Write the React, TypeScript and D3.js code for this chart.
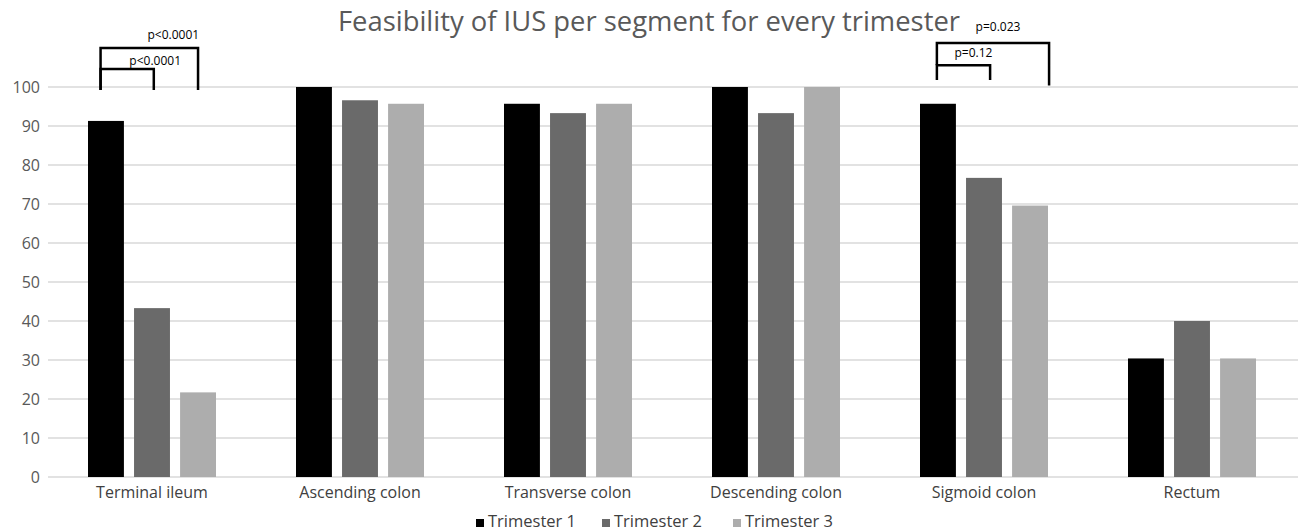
import React from "react";
import * as d3 from "d3";

const categories = ["Terminal ileum", "Ascending colon", "Transverse colon", "Descending colon", "Sigmoid colon", "Rectum"];
const seriesNames = ["Trimester 1", "Trimester 2", "Trimester 3"];
const trimester1 = [91.3, 100, 95.7, 100, 95.7, 30.4];
const trimester2 = [43.3, 96.6, 93.3, 93.3, 76.7, 40];
const trimester3 = [21.7, 95.7, 95.7, 100, 69.6, 30.4];
const yTicks = [0, 10, 20, 30, 40, 50, 60, 70, 80, 90, 100];
const colors = ["#000000", "#6a6a6a", "#adadad"];

// significance brackets: category, from series, to series, values (y units), label
const bracketCats = [0, 0, 4, 4];
const bracketFrom = [0, 0, 0, 0];
const bracketTo = [2, 1, 2, 1];
const bracketTop = [110, 104.6, 111.3, 105.6];
const bracketLeftBottom = [99.2, 99.2, 105.6, 101.8];
const bracketRightBottom = [99.2, 99.2, 100.4, 101.8];
const bracketLabels = ["p<0.0001", "p<0.0001", "p=0.023", "p=0.12"];
const bracketLabelY = [112.3, 105.6, 114.4, 107.7];

// layout for brackets (fraction of bar width for ends, label x shift in px)
const bracketFromFrac = [0.35, 0.35, 0.47, 0.47];
const bracketToFrac = [0.5, 0.55, 1.03, 0.67];
const bracketLabelShift = [24, 28, 5, 10];

const W = 1298;
const H = 532;
const left = 48;
const right = 1296;
const font = "'Open Sans', 'Noto Sans', sans-serif";

export default function App() {
  const x = d3.scaleBand<string>().domain(categories).range([left, right]).paddingInner(0).paddingOuter(0);
  const inner = d3.scaleBand<string>().domain(seriesNames).range([40, x.bandwidth() - 40]).paddingInner(0.22).paddingOuter(0);
  const y = d3.scaleLinear().domain([0, 100]).range([477, 87]);
  const series = [trimester1, trimester2, trimester3];

  const bx = (c: number, s: number) => (x(categories[c]) as number) + (inner(seriesNames[s]) as number);
  const bw = inner.bandwidth();

  const legendSquareX = [476, 602, 733];

  return (
    <svg width={W} height={H} style={{ position: "absolute", left: 0, top: 0, background: "#fff" }}>
      <rect width={W} height={H} fill="#fff" />
      <text x={649} y={31} textAnchor="middle" fontFamily={font} fontSize={27.4} fill="#595959">
        Feasibility of IUS per segment for every trimester
      </text>
      {yTicks.map((t) => (
        <g key={t}>
          <line x1={left} x2={W} y1={y(t)} y2={y(t)} stroke="#d9d9d9" strokeWidth={1.3} />
          <text x={40} y={y(t) + 6} textAnchor="end" fontFamily={font} fontSize={16} fill="#595959">
            {t}
          </text>
        </g>
      ))}
      {series.map((vals, s) =>
        vals.map((v, c) => (
          <rect key={`${s}-${c}`} x={bx(c, s)} y={y(v)} width={bw} height={y(0) - y(v)} fill={colors[s]} />
        ))
      )}
      {categories.map((c) => (
        <text key={c} x={(x(c) as number) + x.bandwidth() / 2} y={498} textAnchor="middle" fontFamily={font} fontSize={16} fill="#404040">
          {c}
        </text>
      ))}
      {bracketLabels.map((label, i) => {
        const x1 = bx(bracketCats[i], bracketFrom[i]) + bw * bracketFromFrac[i];
        const x2 = bx(bracketCats[i], bracketTo[i]) + bw * bracketToFrac[i];
        return (
          <g key={i}>
            <path
              d={`M${x1},${y(bracketLeftBottom[i])}V${y(bracketTop[i])}H${x2}V${y(bracketRightBottom[i])}`}
              fill="none"
              stroke="#000"
              strokeWidth={2.5}
            />
            <text x={(x1 + x2) / 2 + bracketLabelShift[i]} y={y(bracketLabelY[i])} textAnchor="middle" fontFamily={font} fontSize={12} fill="#000">
              {label}
            </text>
          </g>
        );
      })}
      {seriesNames.map((n, i) => (
        <g key={n}>
          <rect x={legendSquareX[i]} y={519} width={8} height={8} fill={colors[i]} />
          <text x={legendSquareX[i] + 12} y={527} fontFamily={font} fontSize={16.5} fill="#404040">
            {n}
          </text>
        </g>
      ))}
    </svg>
  );
}
